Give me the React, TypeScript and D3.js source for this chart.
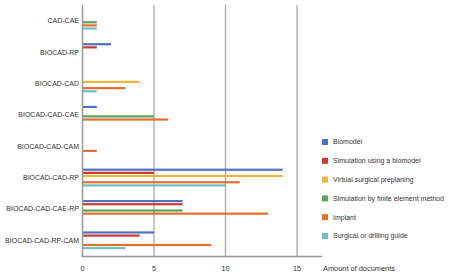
import React from "react";
import * as d3 from "d3";

const categories = [
  "CAD-CAE",
  "BIOCAD-RP",
  "BIOCAD-CAD",
  "BIOCAD-CAD-CAE",
  "BIOCAD-CAD-CAM",
  "BIOCAD-CAD-RP",
  "BIOCAD-CAD-CAE-RP",
  "BIOCAD-CAD-RP-CAM",
];

const seriesNames = [
  "Biomodel",
  "Simulation using a biomodel",
  "Virtual surgical preplaning",
  "Simulation by finite element method",
  "Implant",
  "Surgical or drilling guide",
];

const seriesColors = ["#5470c0", "#c43c32", "#ebb73a", "#5ba25a", "#e0702b", "#6cc0c4"];

const biomodel = [0, 2, 0, 1, 0, 14, 7, 5];
const simulationBiomodel = [0, 1, 0, 0, 0, 5, 7, 4];
const virtualPreplaning = [0, 0, 4, 0, 0, 14, 0, 0];
const finiteElement = [1, 0, 0, 5, 0, 0, 7, 0];
const implant = [1, 0, 3, 6, 1, 11, 13, 9];
const surgicalGuide = [1, 0, 1, 0, 0, 10, 0, 3];

const seriesValues = [biomodel, simulationBiomodel, virtualPreplaning, finiteElement, implant, surgicalGuide];

const xTicks = [0, 5, 10, 15];

export default function App() {
  const W = 450;
  const H = 278;
  const x = d3.scaleLinear().domain([0, 15]).range([82.5, 297]);
  const y = d3.scaleBand().domain(categories).range([5, 256]).paddingInner(0).paddingOuter(0);
  const inner = d3
    .scaleBand()
    .domain(seriesNames)
    .range([y.bandwidth() * 0.2, y.bandwidth() * 0.8]);
  const barH = 2.2;
  const font = "'Liberation Sans', Arial, sans-serif";
  const axisY = 256.5;

  return (
    <svg
      width={W}
      height={H}
      style={{ position: "absolute", left: 0, top: 0, background: "#fff" }}
      fontFamily={font}
    >
      {xTicks.slice(1).map((t) => (
        <line key={t} x1={x(t)} x2={x(t)} y1={5} y2={axisY} stroke="#a8a8a8" strokeWidth={1.3} />
      ))}
      {categories.map((c, ci) => (
        <g key={c} transform={`translate(0,${y(c)})`}>
          {seriesNames.map((s, si) => {
            const v = seriesValues[si][ci];
            if (!v) return null;
            const yy = (inner(s) as number) + inner.bandwidth() / 2 - barH / 2;
            return (
              <rect key={s} x={x(0)} y={yy} width={x(v) - x(0)} height={barH} fill={seriesColors[si]} />
            );
          })}
          <text
            x={79}
            y={y.bandwidth() / 2}
            dy="0.35em"
            textAnchor="end"
            fontSize={7}
            fill="#333"
          >
            {c}
          </text>
        </g>
      ))}
      <line x1={x(0)} x2={x(0)} y1={5} y2={axisY} stroke="#999" strokeWidth={1.5} />
      <line x1={x(0) - 1} x2={322} y1={axisY} y2={axisY} stroke="#999" strokeWidth={1.5} />
      {xTicks.map((t) => (
        <text key={t} x={x(t)} y={268} dy="0.35em" textAnchor="middle" fontSize={7.2} fill="#333">
          {t}
        </text>
      ))}
      <text x={323} y={268} dy="0.35em" fontSize={7.4} fill="#333">
        Amount of documents
      </text>
      {seriesNames.map((s, i) => {
        const ly = 142 + i * 18.8;
        return (
          <g key={s}>
            <rect x={322} y={ly - 3} width={6} height={6} fill={seriesColors[i]} />
            <text x={333} y={ly} dy="0.35em" fontSize={7} fill="#333">
              {s}
            </text>
          </g>
        );
      })}
    </svg>
  );
}
